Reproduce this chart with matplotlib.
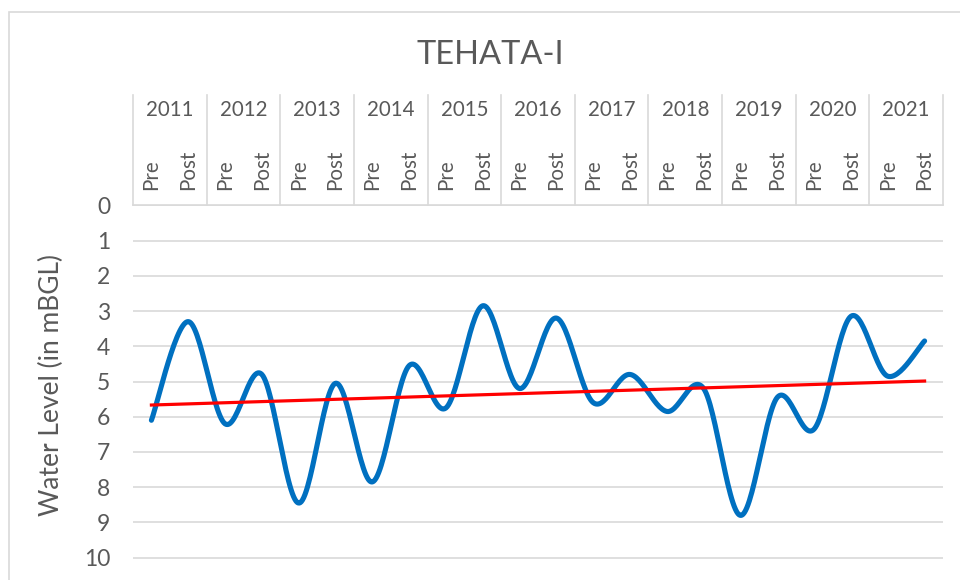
import numpy as np
import matplotlib.pyplot as plt
from matplotlib import transforms
from matplotlib.patches import Rectangle

# データ (読み取り値, mBGL)
years = ["2011", "2012", "2013", "2014", "2015", "2016",
         "2017", "2018", "2019", "2020", "2021"]
seasons = ["Pre", "Post"]
water_level = [6.1, 3.3, 6.2, 4.8, 8.45, 5.05, 7.85, 4.55, 5.75, 2.85, 5.2,
               3.2, 5.6, 4.8, 5.85, 5.2, 8.8, 5.45, 6.35, 3.15, 4.85, 3.85]
y_ticks = list(range(0, 11))

plt.rcParams["font.family"] = ["Lato", "DejaVu Sans"]
TXT = "#595959"
GRID = "#D9D9D9"

W, H = 960, 580
fig = plt.figure(figsize=(W / 100, H / 100), dpi=100)

# 軸位置 (ピクセル基準)
left_px, right_px, top_px = 133, 943, 205.3
px_per_unit = 35.24
ax = fig.add_axes([left_px / W, 0, (right_px - left_px) / W, 1 - top_px / H])

n = len(water_level)
x = np.arange(n)


def catmull_rom(xs, ys, steps=30):
    # Excelの「スムージング」風の曲線
    px = np.concatenate([[xs[0]], xs, [xs[-1]]])
    py = np.concatenate([[ys[0]], ys, [ys[-1]]])
    out_x, out_y = [], []
    t = np.linspace(0, 1, steps)
    for i in range(1, len(px) - 2):
        p0x, p1x, p2x, p3x = px[i - 1], px[i], px[i + 1], px[i + 2]
        p0y, p1y, p2y, p3y = py[i - 1], py[i], py[i + 1], py[i + 2]
        c1x, c1y = p1x + (p2x - p0x) / 6, p1y + (p2y - p0y) / 6
        c2x, c2y = p2x - (p3x - p1x) / 6, p2y - (p3y - p1y) / 6
        b0, b1, b2, b3 = (1 - t) ** 3, 3 * (1 - t) ** 2 * t, 3 * (1 - t) * t ** 2, t ** 3
        out_x.extend(b0 * p1x + b1 * c1x + b2 * c2x + b3 * p2x)
        out_y.extend(b0 * p1y + b1 * c1y + b2 * c2y + b3 * p2y)
    return np.array(out_x), np.array(out_y)


sx, sy = catmull_rom(x.astype(float), np.array(water_level))
ax.plot(sx, sy, color="#0070C0", lw=3.7, solid_capstyle="round", zorder=3)

# 線形トレンド
coef = np.polyfit(x, water_level, 1)
ax.plot([x[0], x[-1]], np.polyval(coef, [x[0], x[-1]]),
        color="#FF0000", lw=2.3, zorder=4)

ax.set_xlim(-0.5, n - 0.5)
ax.set_ylim((H - top_px) / px_per_unit, 0)
ax.set_xticks([])
ax.set_yticks(y_ticks)
ax.tick_params(axis="y", length=0, pad=16.5, labelsize=16.5, labelcolor=TXT)
ax.yaxis.grid(True, color=GRID, lw=1.2)
ax.set_axisbelow(True)
for s in ["left", "right", "bottom"]:
    ax.spines[s].set_visible(False)
ax.spines["top"].set_color(GRID)
ax.spines["top"].set_linewidth(1.2)

ax.set_ylabel("Water Level (in mBGL)", fontsize=19, color=TXT)
ax.yaxis.set_label_coords((64 - left_px) / (right_px - left_px), 0.52)

# カテゴリ軸 (上部, 2段)
trans = transforms.blended_transform_factory(ax.transData, fig.transFigure)
for k, yr in enumerate(years):
    ax.text(2 * k + 0.5, 1 - 110 / H, yr, transform=trans, ha="center",
            va="center", fontsize=14.8, color=TXT)
    for j, s in enumerate(seasons):
        ax.text(2 * k + j, 1 - 190 / H, s, transform=trans, ha="center",
                va="bottom", rotation=90, fontsize=14.8, color=TXT)
for k in range(len(years) + 1):
    ax.plot([2 * k - 0.5] * 2, [1 - 95 / H, 1 - top_px / H], transform=trans,
            color=GRID, lw=1.2, clip_on=False)

fig.text(490 / W, 1 - 55 / H, "TEHATA-I", ha="center", va="center",
         fontsize=23.5, color=TXT)

# 外枠
fig.patches.append(Rectangle((9 / W, -0.1), 1.2, 1.1 - 12 / H, fill=False,
                             edgecolor=GRID, lw=1.2, transform=fig.transFigure))

fig.savefig("out.png", dpi=100)
